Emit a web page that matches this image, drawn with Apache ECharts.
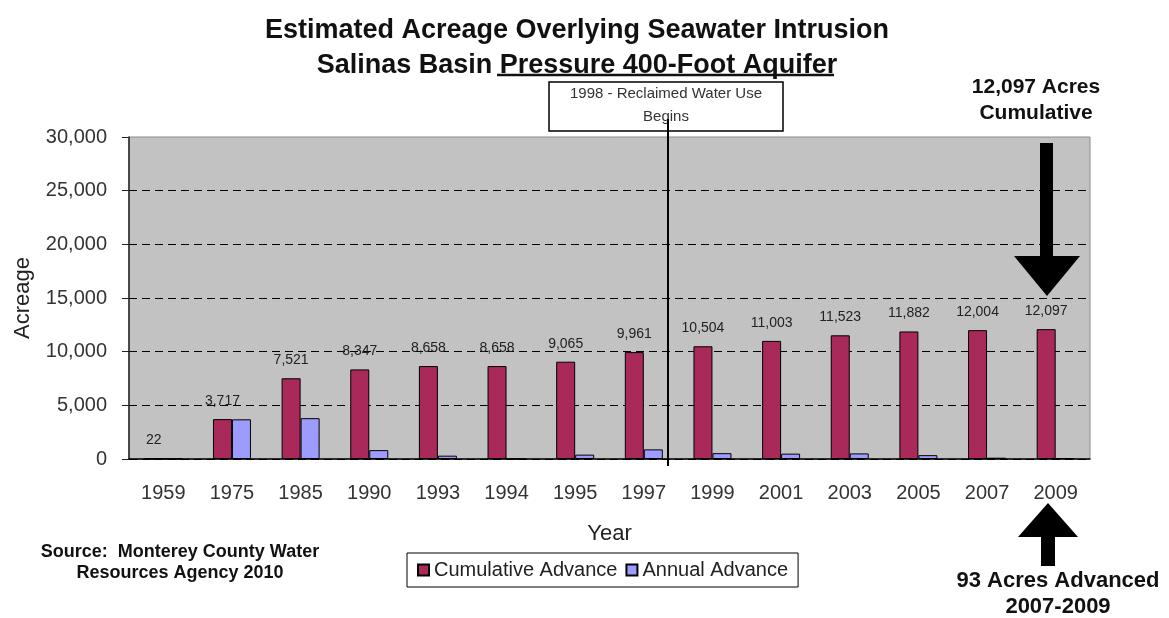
<!DOCTYPE html>
<html>
<head>
<meta charset="utf-8">
<title>Estimated Acreage Overlying Seawater Intrusion</title>
<script src="https://cdn.jsdelivr.net/npm/echarts@6/dist/echarts.min.js"></script>
<style>
  html, body { margin: 0; padding: 0; background: #fff; }
  #chart { width: 1169px; height: 618px; }
</style>
</head>
<body>
<div id="chart"></div>
<script>
const years = ["1959", "1975", "1985", "1990", "1993", "1994", "1995", "1997", "1999", "2001", "2003", "2005", "2007", "2009"];
const cumulativeAdvance = [22, 3717, 7521, 8347, 8658, 8658, 9065, 9961, 10504, 11003, 11523, 11882, 12004, 12097];
const annualAdvance = [22, 3695, 3804, 826, 311, 0, 407, 896, 543, 499, 520, 359, 122, 93];
const yTicks = [0, 5000, 10000, 15000, 20000, 25000, 30000];

const font = "'Liberation Sans', Arial, sans-serif";
const fmt = (v) => Number(v).toLocaleString("en-US");

const chart = echarts.init(document.getElementById("chart"));

const option = {
  backgroundColor: "#fff",
  animation: false,
  title: {
    text: "Estimated Acreage Overlying Seawater Intrusion\nSalinas Basin Pressure 400-Foot Aquifer",
    left: 572,
    top: 8,
    textAlign: "center",
    textStyle: {
      fontFamily: font,
      fontSize: 27,
      fontWeight: "bold",
      color: "#111",
      lineHeight: 35,
    },
  },
  legend: {
    left: 407,
    top: 553,
    padding: [7, 10],
    itemGap: 8,
    itemWidth: 11,
    itemHeight: 11,
    icon: "rect",
    borderColor: "#000",
    borderWidth: 1,
    backgroundColor: "#fff",
    textStyle: { fontFamily: font, fontSize: 20, color: "#222" },
    data: ["Cumulative Advance", "Annual Advance"],
  },
  grid: {
    left: 129,
    right: 79,
    top: 137,
    bottom: 159,
    show: true,
    backgroundColor: "#c2c2c2",
    borderColor: "#8a8a8a",
    borderWidth: 1,
  },
  xAxis: {
    type: "category",
    data: years,
    name: "Year",
    nameLocation: "middle",
    nameGap: 64,
    nameTextStyle: { fontFamily: font, fontSize: 22, color: "#222" },
    axisLine: { show: true, lineStyle: { color: "#000", width: 1.5 } },
    axisTick: { show: false },
    axisLabel: { fontFamily: font, fontSize: 20, color: "#333", margin: 24 },
  },
  yAxis: {
    type: "value",
    min: yTicks[0],
    max: yTicks[yTicks.length - 1],
    interval: yTicks[1] - yTicks[0],
    name: "Acreage",
    nameLocation: "middle",
    nameGap: 95,
    nameTextStyle: { fontFamily: font, fontSize: 22, color: "#222" },
    axisLine: { show: true, lineStyle: { color: "#222", width: 1.5 } },
    axisTick: { show: true, length: 7, lineStyle: { color: "#222" } },
    axisLabel: { fontFamily: font, fontSize: 20, color: "#333", margin: 22, formatter: fmt },
    splitLine: {
      show: true,
      lineStyle: {
        // the top line is the plot border, so it is left out here
        color: ["#000", "#000", "#000", "#000", "#000", "#000", "rgba(0,0,0,0)"],
        type: [8, 5],
        width: 1.2,
      },
    },
  },
  series: [
    {
      name: "Cumulative Advance",
      type: "bar",
      data: cumulativeAdvance,
      barWidth: 19,
      barGap: "0%",
      itemStyle: { color: "#a8295a", borderColor: "#000", borderWidth: 1 },
      label: {
        show: true,
        position: "top",
        distance: 11,
        fontFamily: font,
        fontSize: 14,
        color: "#222",
        formatter: (p) => fmt(p.value),
      },
    },
    {
      name: "Annual Advance",
      type: "bar",
      data: annualAdvance,
      barWidth: 19,
      itemStyle: { color: "#9c9cff", borderColor: "#000", borderWidth: 1 },
    },
  ],
  graphic: [
    // underline under part of the second title line
    { type: "line", shape: { x1: 497, y1: 75, x2: 834, y2: 75 }, style: { stroke: "#111", lineWidth: 2.5 }, z: 100 },
    // 1998 annotation box
    { type: "rect", shape: { x: 549, y: 82, width: 234, height: 49 }, style: { fill: "#fff", stroke: "#000", lineWidth: 1.5 }, z: 100 },
    { type: "text", x: 666, y: 94, style: { text: "1998 - Reclaimed Water Use", font: "15px " + font, fill: "#333", align: "center", verticalAlign: "middle" }, z: 101 },
    { type: "text", x: 666, y: 117, style: { text: "Begins", font: "15px " + font, fill: "#333", align: "center", verticalAlign: "middle" }, z: 101 },
    { type: "line", shape: { x1: 668, y1: 119, x2: 668, y2: 466 }, style: { stroke: "#000", lineWidth: 2 }, z: 102 },
    // cumulative arrow
    { type: "text", x: 1036, y: 87, style: { text: "12,097 Acres", font: "bold 21px " + font, fill: "#111", align: "center", verticalAlign: "middle" }, z: 100 },
    { type: "text", x: 1036, y: 113, style: { text: "Cumulative", font: "bold 21px " + font, fill: "#111", align: "center", verticalAlign: "middle" }, z: 100 },
    { type: "rect", shape: { x: 1040, y: 143, width: 13, height: 114 }, style: { fill: "#000" }, z: 100 },
    { type: "polygon", shape: { points: [[1014, 256], [1080, 256], [1047, 296]] }, style: { fill: "#000" }, z: 100 },
    // annual arrow
    { type: "polygon", shape: { points: [[1048, 503], [1078, 537], [1018, 537]] }, style: { fill: "#000" }, z: 100 },
    { type: "rect", shape: { x: 1041, y: 536, width: 14, height: 30 }, style: { fill: "#000" }, z: 100 },
    { type: "text", x: 1058, y: 581, style: { text: "93 Acres Advanced", font: "bold 22px " + font, fill: "#111", align: "center", verticalAlign: "middle" }, z: 100 },
    { type: "text", x: 1058, y: 607, style: { text: "2007-2009", font: "bold 22px " + font, fill: "#111", align: "center", verticalAlign: "middle" }, z: 100 },
    // source note
    { type: "text", x: 180, y: 552, style: { text: "Source:  Monterey County Water", font: "bold 18px " + font, fill: "#111", align: "center", verticalAlign: "middle" }, z: 100 },
    { type: "text", x: 180, y: 573, style: { text: "Resources Agency 2010", font: "bold 18px " + font, fill: "#111", align: "center", verticalAlign: "middle" }, z: 100 },
  ],
};

chart.setOption(option);
</script>
</body>
</html>
